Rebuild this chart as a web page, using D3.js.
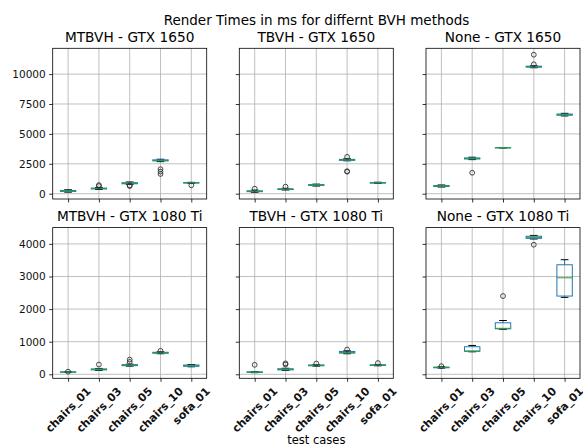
<!DOCTYPE html>
<html>
<head>
<meta charset="utf-8">
<script src="https://cdn.jsdelivr.net/npm/d3@7"></script>
<style>
  body { margin: 0; background: #fff; }
  text { font-family: "DejaVu Sans", sans-serif; }
</style>
</head>
<body>
<div id="chart"></div>
<script>
// test cases on the x axis of every panel
const testCases = ["chairs_01", "chairs_03", "chairs_05", "chairs_10", "sofa_01"];
const methods = ["MTBVH", "TBVH", "None"];
const gpus = ["GTX 1650", "GTX 1080 Ti"];
const yTicks = [[0, 2500, 5000, 7500, 10000], [0, 1000, 2000, 3000, 4000]];
const yLimits = [[-443, 12157], [-123, 4500]];

// box stats per test case: [whisker low, q1, median, q3, whisker high]
const mtbvh1650Box = [[130, 190, 230, 270, 330], [350, 400, 430, 470, 520], [780, 830, 870, 920, 980], [2680, 2740, 2780, 2830, 2880], [860, 890, 910, 930, 950]];
const mtbvh1650Fliers = [[], [640, 720], [640, 700], [1650, 1850, 2050], [700]];
const tbvh1650Box = [[120, 170, 200, 240, 300], [310, 350, 380, 410, 450], [640, 690, 720, 760, 800], [2750, 2790, 2830, 2870, 2920], [860, 890, 910, 930, 960]];
const tbvh1650Fliers = [[420], [590], [], [1840, 1880, 3080], []];
const none1650Box = [[560, 600, 640, 680, 730], [2850, 2900, 2950, 2990, 3050], [3820, 3830, 3840, 3850, 3860], [10530, 10580, 10620, 10660, 10700], [6500, 6560, 6610, 6660, 6720]];
const none1650Fliers = [[], [1750], [], [10820, 11620], []];

const mtbvh1080Box = [[55, 62, 68, 75, 82], [120, 135, 150, 165, 180], [250, 265, 280, 295, 310], [630, 645, 660, 675, 690], [230, 245, 265, 285, 300]];
const mtbvh1080Fliers = [[80], [300], [380, 450], [720], []];
const tbvh1080Box = [[50, 58, 65, 75, 85], [120, 135, 150, 170, 185], [250, 262, 275, 285, 295], [630, 650, 670, 700, 720], [260, 270, 280, 290, 300]];
const tbvh1080Fliers = [[290], [300, 335], [330], [760], [345]];
const none1080Box = [[190, 200, 210, 220, 230], [690, 705, 715, 845, 885], [1380, 1395, 1410, 1580, 1650], [4150, 4170, 4200, 4235, 4260], [2360, 2400, 2960, 3360, 3515]];
const none1080Fliers = [[250], [], [2400], [3975], []];

const boxes = [[mtbvh1650Box, tbvh1650Box, none1650Box], [mtbvh1080Box, tbvh1080Box, none1080Box]];
const fliers = [[mtbvh1650Fliers, tbvh1650Fliers, none1650Fliers], [mtbvh1080Fliers, tbvh1080Fliers, none1080Fliers]];

const width = 583, height = 445;
const colLeft = [52.7, 239.3, 426], rowTop = [48.3, 227.6];
const pw = 154, ph = 150.7;

const svg = d3.select("#chart").append("svg")
  .attr("width", width).attr("height", height);

svg.append("text")
  .attr("x", 316.5).attr("y", 24.5)
  .attr("text-anchor", "middle")
  .style("font-size", "13.5px")
  .text("Render Times in ms for differnt BVH methods");

const x = d3.scaleLinear().domain([0.5, 5.5]).range([0, pw]);
const bw = x(1.25) - x(1), cw = x(1.125) - x(1);

gpus.forEach((gpu, r) => {
  const y = d3.scaleLinear().domain(yLimits[r]).range([ph, 0]);
  methods.forEach((method, c) => {
    const g = svg.append("g")
      .attr("transform", "translate(" + colLeft[c] + "," + rowTop[r] + ")");

    // grid
    g.append("g").selectAll("line").data(yTicks[r]).enter().append("line")
      .attr("x1", 0).attr("x2", pw)
      .attr("y1", d => y(d)).attr("y2", d => y(d))
      .attr("stroke", "#b0b0b0").attr("stroke-width", 0.8);
    g.append("g").selectAll("line").data(testCases).enter().append("line")
      .attr("y1", 0).attr("y2", ph)
      .attr("x1", (d, i) => x(i + 1)).attr("x2", (d, i) => x(i + 1))
      .attr("stroke", "#b0b0b0").attr("stroke-width", 0.8);

    // y axis
    const yAxis = d3.axisLeft(y).tickValues(yTicks[r]).tickSize(3.5).tickPadding(3.5)
      .tickFormat(c == 0 ? d3.format("d") : "");
    const ya = g.append("g").call(yAxis);
    ya.select(".domain").remove();
    ya.selectAll("line").attr("stroke-width", 0.8);
    ya.selectAll("text").style("font-size", "10.5px").attr("fill", "#111")
      .style("font-family", "DejaVu Sans");

    // x axis
    const xAxis = d3.axisBottom(x).tickValues([1, 2, 3, 4, 5]).tickSize(3.5).tickFormat("");
    const xa = g.append("g").attr("transform", "translate(0," + ph + ")").call(xAxis);
    xa.select(".domain").remove();
    xa.selectAll("line").attr("stroke-width", 0.8);

    // boxes
    const data = boxes[r][c];
    const bg = g.append("g").selectAll("g").data(data).enter().append("g");
    bg.append("line") // lower whisker
      .attr("x1", (d, i) => x(i + 1)).attr("x2", (d, i) => x(i + 1))
      .attr("y1", d => y(d[0])).attr("y2", d => y(d[1]))
      .attr("stroke", "#1f77b4").attr("stroke-width", 1);
    bg.append("line") // upper whisker
      .attr("x1", (d, i) => x(i + 1)).attr("x2", (d, i) => x(i + 1))
      .attr("y1", d => y(d[3])).attr("y2", d => y(d[4]))
      .attr("stroke", "#1f77b4").attr("stroke-width", 1);
    bg.append("line") // lower cap
      .attr("x1", (d, i) => x(i + 1) - cw).attr("x2", (d, i) => x(i + 1) + cw)
      .attr("y1", d => y(d[0])).attr("y2", d => y(d[0]))
      .attr("stroke", "#000").attr("stroke-width", 1);
    bg.append("line") // upper cap
      .attr("x1", (d, i) => x(i + 1) - cw).attr("x2", (d, i) => x(i + 1) + cw)
      .attr("y1", d => y(d[4])).attr("y2", d => y(d[4]))
      .attr("stroke", "#000").attr("stroke-width", 1);
    bg.append("rect")
      .attr("x", (d, i) => x(i + 1) - bw).attr("width", 2 * bw)
      .attr("y", d => y(d[3])).attr("height", d => Math.max(0.1, y(d[1]) - y(d[3])))
      .attr("fill", "none").attr("stroke", "#1f77b4").attr("stroke-width", 1);
    bg.append("line") // median
      .attr("x1", (d, i) => x(i + 1) - bw).attr("x2", (d, i) => x(i + 1) + bw)
      .attr("y1", d => y(d[2])).attr("y2", d => y(d[2]))
      .attr("stroke", "#2ca02c").attr("stroke-width", 1);

    // outliers
    const pts = [];
    fliers[r][c].forEach((f, i) => f.forEach(v => pts.push({ i: i, v: v })));
    g.append("g").selectAll("circle").data(pts).enter().append("circle")
      .attr("cx", d => x(d.i + 1)).attr("cy", d => y(d.v)).attr("r", 2.4)
      .attr("fill", "none").attr("stroke", "#333").attr("stroke-width", 0.9);

    // frame
    g.append("rect").attr("width", pw).attr("height", ph)
      .attr("fill", "none").attr("stroke", "#000").attr("stroke-width", 0.8);

    // title
    g.append("text")
      .attr("x", pw / 2).attr("y", -6.2)
      .attr("text-anchor", "middle")
      .style("font-size", "13.7px")
      .text(method + " - " + gpu);

    // rotated category labels on the bottom row
    if (r == 1) {
      testCases.forEach((t, i) => {
        const lab = g.append("text")
          .attr("text-anchor", "middle")
          .attr("dy", "0.35em")
          .style("font-size", "11px")
          .style("font-weight", "bold")
          .attr("fill", "#111")
          .text(t);
        const L = lab.node().getComputedTextLength();
        const hh = (L + 11 * 1.16) * Math.SQRT1_2;
        lab.attr("transform", "translate(" + x(i + 1) + "," + (ph + 6.3 + hh / 2) + ") rotate(-45)");
      });
    }
  });
});

svg.append("text")
  .attr("x", colLeft[1] + pw / 2).attr("y", 443.5)
  .attr("text-anchor", "middle")
  .style("font-size", "11.5px")
  .text("test cases");
</script>
</body>
</html>
